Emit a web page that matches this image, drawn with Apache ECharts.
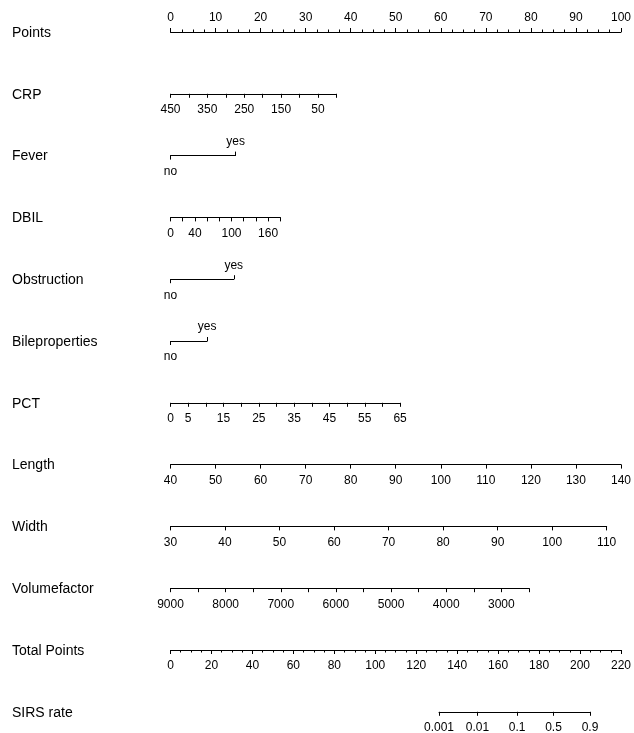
<!DOCTYPE html>
<html>
<head>
<meta charset="utf-8">
<script src="https://cdn.jsdelivr.net/npm/echarts@6/dist/echarts.min.js"></script>
<style>
  html, body { margin: 0; padding: 0; background: #fff; }
  #nomogram { width: 634px; height: 733px; }
</style>
</head>
<body>
<div id="nomogram"></div>
<script>
// nomogram data (points = position on the 0-100 Points scale)
const varNames = ["Points", "CRP", "Fever", "DBIL", "Obstruction", "Bileproperties",
  "PCT", "Length", "Width", "Volumefactor", "Total Points", "SIRS rate"];

const pointsRange = [0, 100];
const pointsLabels = [0, 10, 20, 30, 40, 50, 60, 70, 80, 90, 100];

const crpRange = [450, 0];
const crpPoints = [0, 36.7];
const crpLabels = [450, 350, 250, 150, 50];

const feverLevels = ["no", "yes"];
const feverPoints = [0, 14.4];

const dbilRange = [0, 180];
const dbilPoints = [0, 24.3];
const dbilLabels = [0, 40, 100, 160];

const obstructionLevels = ["no", "yes"];
const obstructionPoints = [0, 14.0];

const bileLevels = ["no", "yes"];
const bilePoints = [0, 8.1];

const pctRange = [0, 65];
const pctPoints = [0, 50.8];
const pctLabels = [0, 5, 15, 25, 35, 45, 55, 65];

const lengthRange = [40, 140];
const lengthPoints = [0, 100];
const lengthLabels = [40, 50, 60, 70, 80, 90, 100, 110, 120, 130, 140];

const widthRange = [30, 110];
const widthPoints = [0, 96.5];
const widthLabels = [30, 40, 50, 60, 70, 80, 90, 100, 110];

const volumeRange = [9000, 2500];
const volumePoints = [0, 79.3];
const volumeLabels = [9000, 8000, 7000, 6000, 5000, 4000, 3000];

const totalRange = [0, 220];
const totalLabels = [0, 20, 40, 60, 80, 100, 120, 140, 160, 180, 200, 220];

const sirsLabels = ["0.001", "0.01", "0.1", "0.5", "0.9"];
const sirsTotalPoints = [130.7, 149.4, 168.7, 186.4, 204.2];

// layout
const x0 = 170.5;
const W = 452; // px for 100 points
const rowTop = 32;
const rowGap = 61.8;
const FONT = "Liberation Sans, Arial, Helvetica, sans-serif";

let chart = echarts.init(document.getElementById("nomogram"));

let grids = [];
let xAxes = [];
let yAxes = [];
let graphics = [];

function rowY(i) {
  return rowTop + i * rowGap;
}

function addGrid(i, p0, p1, scale) {
  // p0/p1 on a scale of `scale` units spanning W px
  grids.push({
    left: x0 + (W * p0) / scale,
    width: (W * (p1 - p0)) / scale,
    top: rowY(i),
    height: 0
  });
  yAxes.push({ gridIndex: grids.length - 1, type: "value", show: false, min: 0, max: 1 });
  return grids.length - 1;
}

function baseLabel(extra) {
  return Object.assign({
    color: "#000",
    fontSize: 12,
    fontFamily: FONT,
    margin: 10,
    showMinLabel: true,
    showMaxLabel: true,
    formatter: (v) => String(v)
  }, extra);
}

function contAxis(i, range, pts, step, labels, opts) {
  opts = opts || {};
  let g = addGrid(i, pts[0], pts[1], opts.scale || 100);
  let inverse = range[0] > range[1];
  xAxes.push({
    gridIndex: g,
    type: "value",
    position: opts.position || "bottom",
    min: Math.min(range[0], range[1]),
    max: Math.max(range[0], range[1]),
    inverse: inverse,
    interval: step,
    splitLine: { show: false },
    axisLine: { show: true, lineStyle: { color: "#000", width: 1 } },
    axisTick: { show: true, length: 4, lineStyle: { color: "#000" } },
    minorTick: opts.minor
      ? { show: true, splitNumber: opts.minor, length: 2.5, lineStyle: { color: "#000" } }
      : { show: false },
    axisLabel: baseLabel({ customValues: labels, margin: opts.margin || 10 })
  });
}

function levelAxis(i, levels, pts) {
  let g = addGrid(i, pts[0], pts[1], 100);
  // first level below the line, second above it
  xAxes.push({
    gridIndex: g,
    type: "value",
    position: "bottom",
    min: 0,
    max: 1,
    splitLine: { show: false },
    axisLine: { show: true, lineStyle: { color: "#000", width: 1 } },
    axisTick: { show: true, length: 4, customValues: [0], lineStyle: { color: "#000" } },
    axisLabel: baseLabel({ customValues: [0], formatter: () => levels[0] })
  });
  xAxes.push({
    gridIndex: g,
    type: "value",
    position: "top",
    min: 0,
    max: 1,
    splitLine: { show: false },
    axisLine: { show: false },
    axisTick: { show: true, length: 4, customValues: [1], lineStyle: { color: "#000" } },
    axisLabel: baseLabel({ customValues: [1], margin: 8, formatter: () => levels[1] })
  });
}

contAxis(0, pointsRange, [0, 100], 10, pointsLabels, { position: "top", minor: 4, margin: 8 });
contAxis(1, crpRange, crpPoints, 50, crpLabels);
levelAxis(2, feverLevels, feverPoints);
contAxis(3, dbilRange, dbilPoints, 20, dbilLabels);
levelAxis(4, obstructionLevels, obstructionPoints);
levelAxis(5, bileLevels, bilePoints);
contAxis(6, pctRange, pctPoints, 5, pctLabels);
contAxis(7, lengthRange, lengthPoints, 10, lengthLabels);
contAxis(8, widthRange, widthPoints, 10, widthLabels);
contAxis(9, volumeRange, volumePoints, 500, volumeLabels);
contAxis(10, totalRange, totalRange, 20, totalLabels, { scale: 220, minor: 4 });

// SIRS rate: ticks sit at total-points positions
let gs = addGrid(11, sirsTotalPoints[0], sirsTotalPoints[sirsTotalPoints.length - 1], 220);
xAxes.push({
  gridIndex: gs,
  type: "value",
  position: "bottom",
  min: sirsTotalPoints[0],
  max: sirsTotalPoints[sirsTotalPoints.length - 1],
  splitLine: { show: false },
  axisLine: { show: true, lineStyle: { color: "#000", width: 1 } },
  axisTick: { show: true, length: 4, customValues: sirsTotalPoints, lineStyle: { color: "#000" } },
  axisLabel: baseLabel({
    customValues: sirsTotalPoints,
    formatter: function (v) {
      let k = sirsTotalPoints.indexOf(v);
      return k >= 0 ? sirsLabels[k] : "";
    }
  })
});

varNames.forEach(function (name, i) {
  graphics.push({
    type: "text",
    x: 12,
    y: rowY(i) + 1,
    style: {
      text: name,
      fill: "#000",
      fontSize: 14,
      fontFamily: FONT,
      verticalAlign: "middle"
    }
  });
});

let option = {
  backgroundColor: "#fff",
  animation: false,
  grid: grids,
  xAxis: xAxes,
  yAxis: yAxes,
  graphic: graphics,
  series: []
};
chart.setOption(option);
</script>
</body>
</html>
